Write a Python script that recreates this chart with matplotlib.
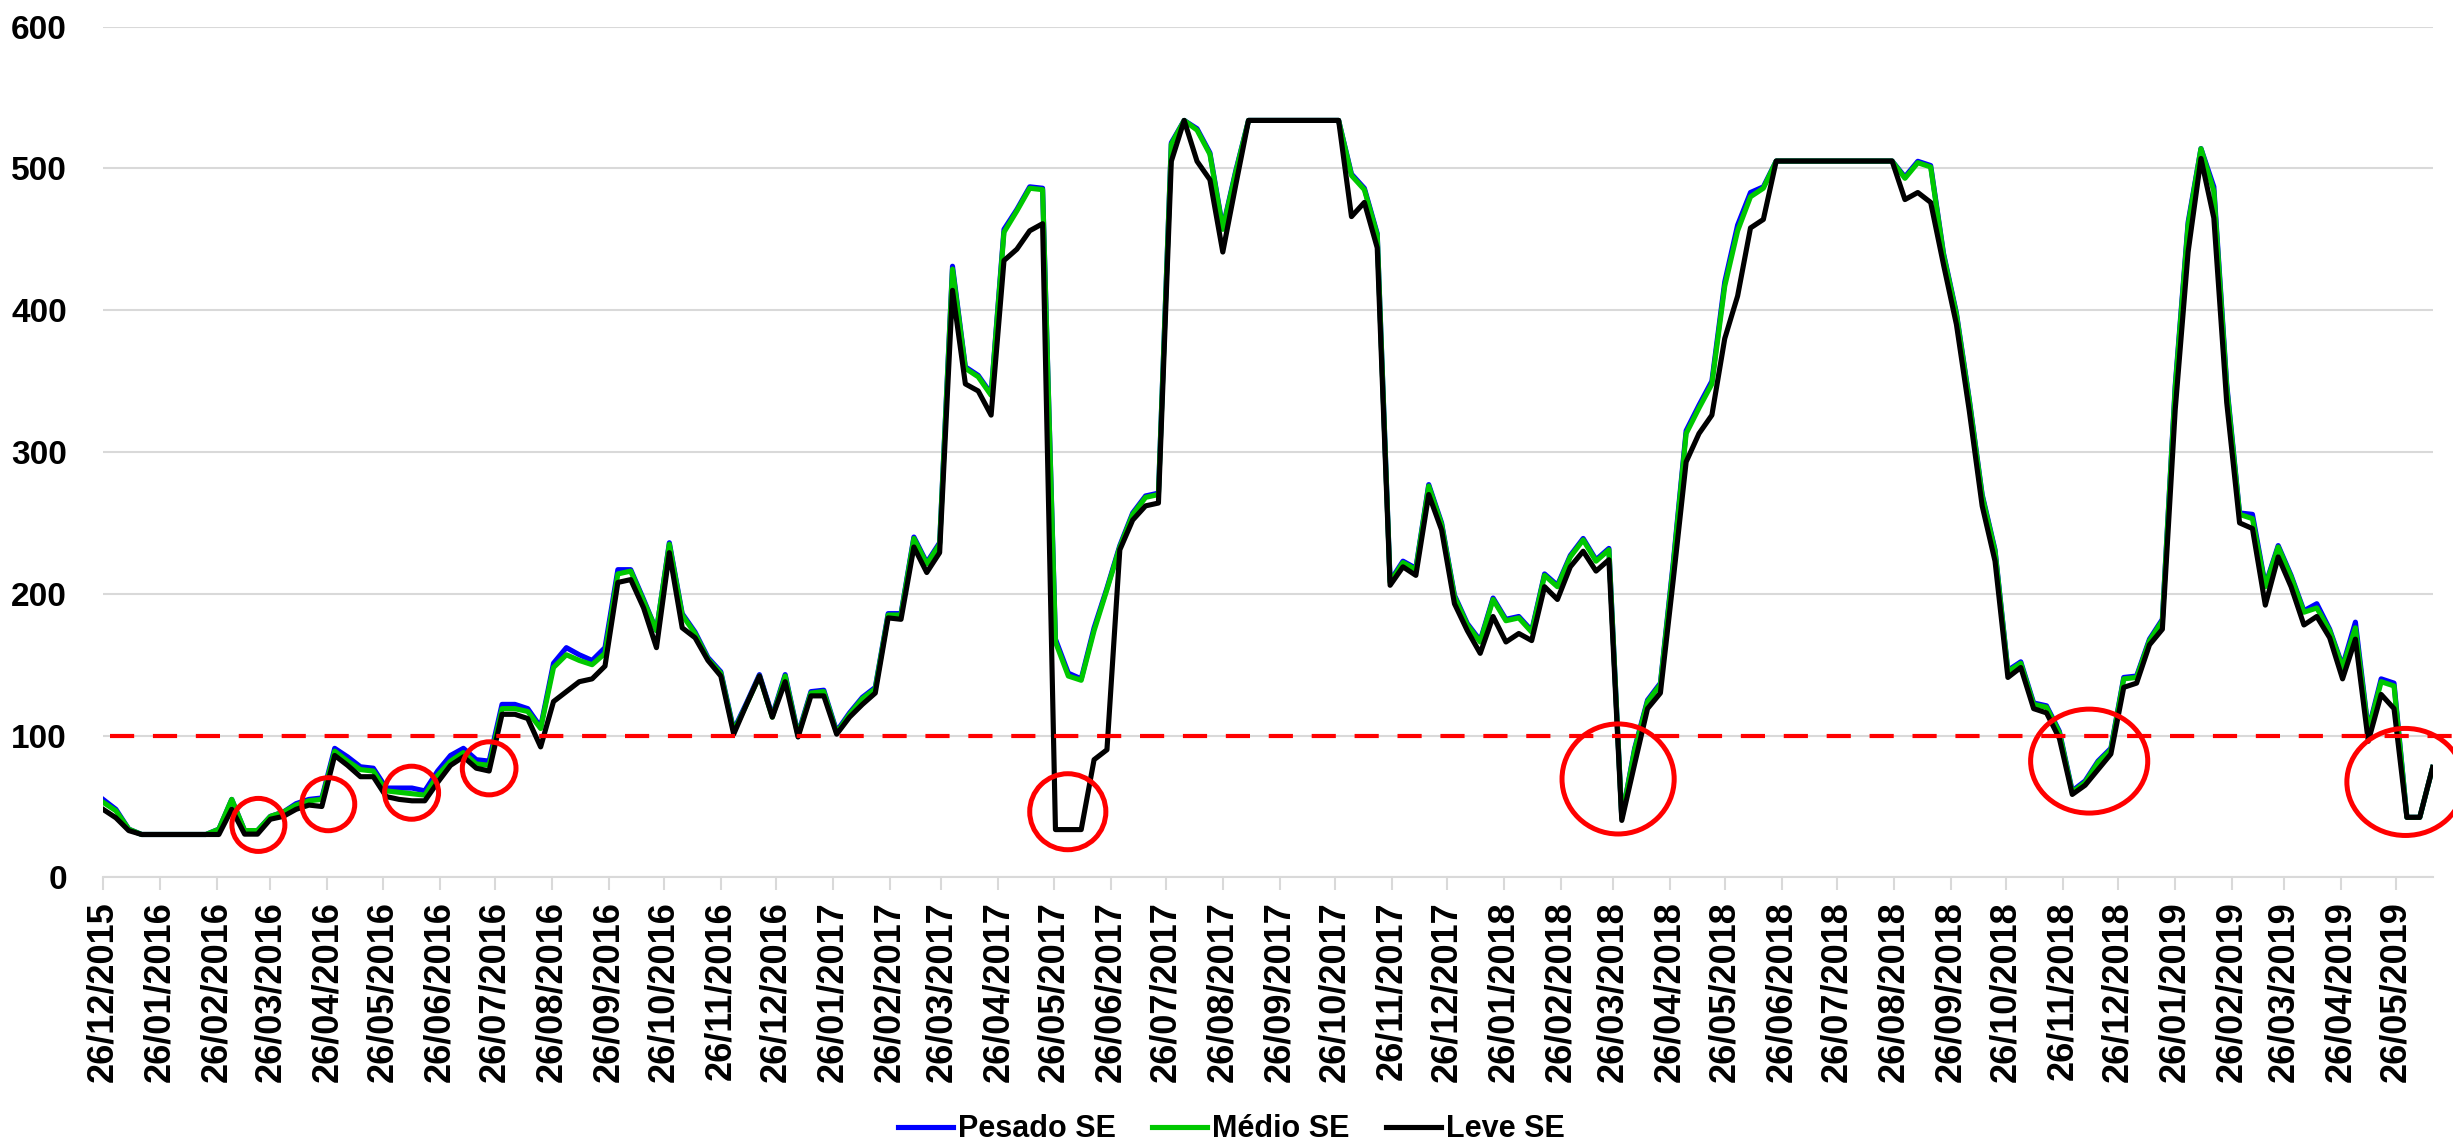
import pandas as pd
import matplotlib
matplotlib.use('Agg')
import matplotlib.pyplot as plt
import matplotlib.dates as mdates
from matplotlib.patches import Ellipse

# Weekly series (R$/MWh), first week 26/12/2015
start_date = '2015-12-26'

leve = [48, 42, 33, 30.25, 30.25, 30.25, 30.25, 30.25, 30.25, 30.25,
        48, 30.5, 30.5, 41, 43, 48, 51, 50, 86, 79,
        71, 71, 57, 55, 54, 54, 67, 79, 85, 77,
        75, 115, 115, 112, 92, 124, 131, 138, 140, 149,
        208, 210, 190, 162, 229, 176, 169, 153, 142, 101,
        122, 142, 113, 138, 99, 128, 128, 101, 113, 122,
        130, 183, 182, 233, 215, 229, 414, 348, 343, 326,
        435, 443, 456, 461, 33.7, 33.7, 33.7, 83, 90, 231,
        252, 262, 264, 505, 533.82, 505, 492, 441, 488, 533.82,
        533.82, 533.82, 533.82, 533.82, 533.82, 533.82, 533.82, 466, 476, 444,
        206, 219, 213, 270, 245, 193, 174, 158, 184, 166,
        172, 167, 205, 196, 219, 230, 216, 224, 40.16, 80,
        119, 130, 210, 293, 313, 326, 380, 410, 458, 464,
        505.18, 505.18, 505.18, 505.18, 505.18, 505.18, 505.18, 505.18, 505.18, 505.18,
        478, 483, 476, 432, 390, 329, 262, 223, 141, 148,
        119, 116, 98, 58.5, 65, 76, 87, 134, 137, 164,
        175, 330, 441, 507, 465, 335, 250, 246, 192, 226,
        205, 178, 184, 169, 140, 168, 96, 129, 119, 42.35,
        42.35, 77.5]

medio = [53, 47, 34, 30.25, 30.25, 30.25, 30.25, 30.25, 30.25, 34,
         55, 33, 33, 43, 46, 51, 54, 55, 89, 82,
         76, 75, 61, 60, 59, 58, 72, 82, 88, 80,
         79, 119, 119, 117, 105, 148, 157, 153, 150, 158,
         214, 216, 195, 174, 235, 185, 172, 154, 144, 103,
         122, 142, 113, 142, 100, 130, 131, 102, 115, 126,
         133, 185, 185, 239, 221, 235, 429, 359, 353, 340,
         455, 470, 486, 485, 166, 142, 139, 174, 203, 233,
         256, 268, 270, 517, 533.82, 527, 510, 457, 497, 533.82,
         533.82, 533.82, 533.82, 533.82, 533.82, 533.82, 533.82, 495, 485, 453,
         208, 222, 217, 276, 249, 198, 178, 166, 196, 181,
         183, 173, 213, 205, 226, 238, 223, 231, 42, 90,
         124, 136, 220, 313, 331, 348, 417, 456, 480, 486,
         505.18, 505.18, 505.18, 505.18, 505.18, 505.18, 505.18, 505.18, 505.18, 505.18,
         493, 504, 501, 439, 397, 336, 269, 230, 145, 151,
         122, 120, 102, 60, 67, 81, 90, 140, 141, 167,
         181, 345, 460, 513.89, 484, 346, 256, 253, 205, 233,
         212, 187, 190, 174, 148, 176, 103, 138, 135, 42.35,
         42.35, 77.5]

pesado = [55, 48, 34, 30.25, 30.25, 30.25, 30.25, 30.25, 30.25, 34,
          55, 33, 33, 43, 46, 52, 55, 56, 91, 85,
          78, 77, 63, 63, 63, 61, 75, 86, 91, 83,
          82, 122, 122, 119, 106, 151, 162, 157, 153, 162,
          217, 217, 196, 174, 236, 186, 173, 155, 145, 104,
          123, 143, 114, 143, 101, 131, 132, 103, 116, 127,
          134, 186, 186, 240, 222, 236, 431, 360, 354, 341,
          457, 471, 487, 486, 168, 144, 140, 176, 204, 234,
          257, 269, 271, 518, 533.82, 528, 511, 458, 498, 533.82,
          533.82, 533.82, 533.82, 533.82, 533.82, 533.82, 533.82, 496, 486, 454,
          209, 223, 218, 277, 250, 199, 179, 167, 197, 182,
          184, 174, 214, 206, 227, 239, 224, 232, 42, 91,
          125, 137, 222, 315, 333, 350, 420, 460, 483, 487,
          505.18, 505.18, 505.18, 505.18, 505.18, 505.18, 505.18, 505.18, 505.18, 505.18,
          494, 505, 502, 440, 398, 337, 270, 231, 146, 152,
          123, 121, 103, 61, 68, 82, 91, 141, 142, 168,
          182, 347, 462, 514, 487, 348, 257, 256, 206, 234,
          213, 188, 193, 175, 149, 180, 104, 140, 137, 42.35,
          42.35, 77.5]

tick_labels = ['26/12/2015', '26/01/2016', '26/02/2016', '26/03/2016', '26/04/2016',
               '26/05/2016', '26/06/2016', '26/07/2016', '26/08/2016', '26/09/2016',
               '26/10/2016', '26/11/2016', '26/12/2016', '26/01/2017', '26/02/2017',
               '26/03/2017', '26/04/2017', '26/05/2017', '26/06/2017', '26/07/2017',
               '26/08/2017', '26/09/2017', '26/10/2017', '26/11/2017', '26/12/2017',
               '26/01/2018', '26/02/2018', '26/03/2018', '26/04/2018', '26/05/2018',
               '26/06/2018', '26/07/2018', '26/08/2018', '26/09/2018', '26/10/2018',
               '26/11/2018', '26/12/2018', '26/01/2019', '26/02/2019', '26/03/2019',
               '26/04/2019', '26/05/2019']

threshold = 100

# red circles: (days after start, value, width in days, height in value units)
circles = [(84.5, 37, 28.8, 37.4), (122.5, 51.6, 28.8, 37.4), (167.8, 59.7, 29.4, 37.4),
           (210, 76.9, 29.2, 37.4), (524.7, 46.3, 41.4, 53.6), (824, 69.4, 61, 77.6),
           (1080.2, 82, 63.7, 73.3), (1252.2, 67.3, 63.7, 75.5)]

dates = pd.date_range(start_date, periods=len(leve), freq='7D')
ticks = pd.to_datetime(tick_labels, format='%d/%m/%Y')

fig = plt.figure(figsize=(24.53, 11.46), dpi=100)
ax = fig.add_axes([0.042, 0.2344, 0.9497, 0.7424])

lw = 3.7
ax.plot(dates, pesado, color='#0000ff', lw=lw, solid_joinstyle='round', label='Pesado SE', zorder=3)
ax.plot(dates, medio, color='#00c800', lw=lw, solid_joinstyle='round', label='Médio SE', zorder=4)
ax.plot(dates, leve, color='black', lw=lw, solid_joinstyle='round', label='Leve SE', zorder=5)

# dashed threshold line
x0 = mdates.date2num(dates[0])
x1 = mdates.date2num(dates[-1])
ax.plot([x0 + 4, x1 + 12], [threshold, threshold], color='#ff0000', lw=3.0,
        linestyle=(0, (5.8, 4.5)), dash_capstyle='butt', zorder=6, clip_on=False)

for d, v, w, h in circles:
    ax.add_patch(Ellipse((x0 + d, v), w, h, fill=False, edgecolor='#ff0000',
                         lw=3.6, zorder=7, clip_on=False))

ax.set_ylim(0, 600)
ax.set_xlim(dates[0], dates[-1])
ax.set_yticks(range(0, 601, 100))
ax.set_xticks(ticks)
ax.set_xticklabels(tick_labels, rotation=90, fontsize=26, fontweight='bold',
                   family='Liberation Sans')
for lab in ax.get_yticklabels():
    lab.set_fontsize(24)
    lab.set_fontweight('bold')
    lab.set_family('Liberation Sans')

ax.grid(axis='y', color='#d9d9d9', lw=1.5, zorder=0)
ax.set_axisbelow(True)
for s in ['top', 'right', 'left']:
    ax.spines[s].set_visible(False)
ax.spines['bottom'].set_color('#d9d9d9')
ax.spines['bottom'].set_linewidth(1.5)
ax.tick_params(axis='y', length=0, pad=26)
ax.tick_params(axis='x', length=9, width=1.5, color='#d9d9d9', pad=8)

fig.legend(loc='center', bbox_to_anchor=(0.502, 0.0144), ncol=3, frameon=False,
           prop={'family': 'Liberation Sans', 'weight': 'bold', 'size': 22},
           handlelength=1.8, handletextpad=0.15, columnspacing=1.2)

fig.savefig('out.png', dpi=100)
